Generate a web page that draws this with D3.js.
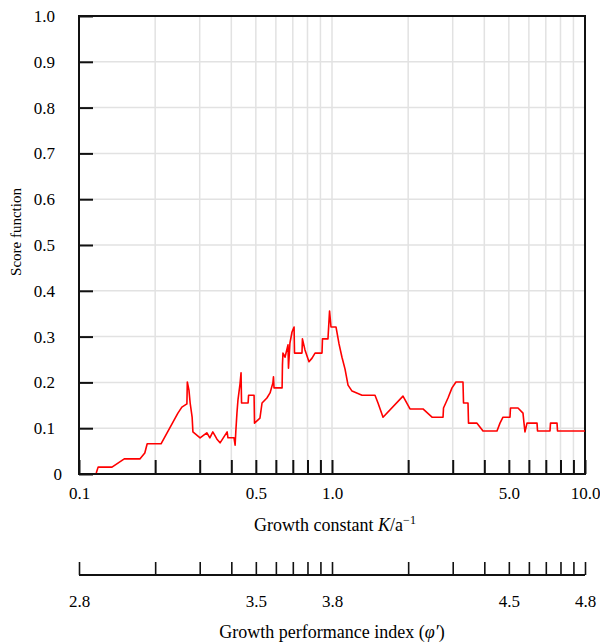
<!DOCTYPE html>
<html>
<head>
<meta charset="utf-8">
<script src="https://cdn.jsdelivr.net/npm/d3@7"></script>
<style>
body { margin: 0; background: #fff; }
text { font-family: "Liberation Serif", "Times New Roman", serif; fill: #000; }
</style>
</head>
<body>
<div id="chart"></div>
<script>
// growth constant K (1/a) and score function
const kValues = [0.117, 0.119, 0.135, 0.151, 0.174, 0.182, 0.186, 0.211, 0.246, 0.255,
    0.267, 0.268, 0.272, 0.275, 0.280, 0.282, 0.301, 0.320, 0.329, 0.338,
    0.351, 0.361, 0.367, 0.385, 0.388, 0.410, 0.414, 0.417, 0.421, 0.425,
    0.433, 0.437, 0.439, 0.466, 0.468, 0.492, 0.494, 0.519, 0.529, 0.553,
    0.569, 0.584, 0.587, 0.590, 0.635, 0.637, 0.640, 0.652, 0.670, 0.673,
    0.682, 0.695, 0.708, 0.711, 0.761, 0.764, 0.782, 0.811, 0.834, 0.857,
    0.913, 0.917, 0.964, 0.978, 0.991, 1.037, 1.066, 1.095, 1.126, 1.157,
    1.200, 1.314, 1.479, 1.520, 1.591, 1.908, 2.034, 2.289, 2.485, 2.747,
    2.759, 2.874, 2.981, 3.091, 3.294, 3.310, 3.448, 3.464, 3.742, 3.953,
    4.489, 4.613, 4.741, 5.052, 5.075, 5.435, 5.687, 5.740, 5.791, 5.899,
    6.462, 6.492, 7.272, 7.305, 7.752, 7.787, 10.0];
const scores = [0.002, 0.015, 0.015, 0.033, 0.033, 0.046, 0.066, 0.066, 0.133, 0.146,
    0.153, 0.201, 0.183, 0.155, 0.124, 0.092, 0.079, 0.090, 0.079, 0.092,
    0.076, 0.068, 0.074, 0.092, 0.079, 0.079, 0.063, 0.096, 0.133, 0.162,
    0.197, 0.221, 0.155, 0.155, 0.172, 0.172, 0.111, 0.122, 0.155, 0.166,
    0.177, 0.199, 0.212, 0.188, 0.188, 0.238, 0.264, 0.255, 0.282, 0.231,
    0.286, 0.310, 0.321, 0.264, 0.264, 0.295, 0.271, 0.245, 0.253, 0.264,
    0.264, 0.295, 0.295, 0.356, 0.321, 0.321, 0.284, 0.255, 0.229, 0.194,
    0.181, 0.172, 0.172, 0.155, 0.124, 0.170, 0.142, 0.142, 0.124, 0.124,
    0.144, 0.166, 0.188, 0.201, 0.201, 0.155, 0.155, 0.111, 0.111, 0.094,
    0.094, 0.111, 0.124, 0.124, 0.144, 0.144, 0.133, 0.111, 0.092, 0.111,
    0.111, 0.094, 0.094, 0.111, 0.111, 0.094, 0.094];

const yTicks = [0, 0.1, 0.2, 0.3, 0.4, 0.5, 0.6, 0.7, 0.8, 0.9, 1.0];
const kTicks = [0.1, 0.2, 0.3, 0.4, 0.5, 0.6, 0.7, 0.8, 0.9, 1, 2, 3, 4, 5, 6, 7, 8, 9, 10];
const kLabels = [0.1, 0.5, 1, 5, 10];
const kGrid = [0.2, 0.3, 0.4, 0.5, 0.6, 0.7, 0.8, 0.9, 1, 2, 3, 4, 5, 6, 7, 8, 9];
const phiLabels = [2.8, 3.5, 3.8, 4.5, 4.8];
const phiAtK1 = 3.8; // phi' where K = 1

function scoreChart() {
    const margin = {top: 16, right: 15, bottom: 169, left: 79};
    const fullW = 600, fullH = 643;
    const width = fullW - margin.left - margin.right;
    const height = fullH - margin.top - margin.bottom;
    const tickFont = "17px";

    const svg = d3.select("#chart")
        .append("svg")
        .attr("width", fullW)
        .attr("height", fullH)
        .append("g")
        .attr("transform", `translate(${margin.left}, ${margin.top})`);

    const x = d3.scaleLog().domain([0.1, 10]).range([0, width]);
    const y = d3.scaleLinear().domain([0, 1]).range([height, 0]);

    // grid
    svg.selectAll("vgrid")
        .data(kGrid)
        .enter()
        .append("line")
        .attr("x1", d => x(d)).attr("x2", d => x(d))
        .attr("y1", 0).attr("y2", height)
        .attr("stroke", "#e2e2e2")
        .attr("stroke-width", 1.5);
    svg.selectAll("hgrid")
        .data(yTicks.filter(d => d > 0 && d < 1))
        .enter()
        .append("line")
        .attr("x1", 0).attr("x2", width)
        .attr("y1", d => y(d)).attr("y2", d => y(d))
        .attr("stroke", "#e2e2e2")
        .attr("stroke-width", 1.5);

    // left axis, ticks inward
    const yAxis = svg.append("g")
        .call(d3.axisLeft(y).tickValues(yTicks).tickSize(-14).tickPadding(24)
            .tickFormat(d => d === 0 ? "0" : d.toFixed(1)));
    yAxis.select(".domain").remove();
    yAxis.selectAll("line").attr("stroke", "#111").attr("stroke-width", 2);
    yAxis.selectAll("text")
        .style("font-size", tickFont)
        .style("font-family", '"Liberation Serif", serif')
        .attr("x", d => d === 0 ? -17 : -24);

    // bottom axis, ticks inward
    const xAxis = svg.append("g")
        .attr("transform", `translate(0, ${height})`)
        .call(d3.axisBottom(x).tickValues(kTicks).tickSize(-14).tickPadding(13)
            .tickFormat(d => kLabels.includes(d) ? d.toFixed(1) : ""));
    xAxis.select(".domain").remove();
    xAxis.selectAll("line").attr("stroke", "#111").attr("stroke-width", 2);
    xAxis.selectAll("text")
        .style("font-size", tickFont)
        .style("font-family", '"Liberation Serif", serif');

    // frame
    svg.append("rect")
        .attr("x", 0).attr("y", 0)
        .attr("width", width).attr("height", height)
        .attr("fill", "none")
        .attr("stroke", "#111")
        .attr("stroke-width", 2);

    // score line
    const pts = kValues.map((k, i) => [k, scores[i]]);
    svg.append("path")
        .datum(pts)
        .attr("fill", "none")
        .attr("stroke", "#ff0000")
        .attr("stroke-width", 1.6)
        .attr("stroke-linejoin", "round")
        .attr("d", d3.line().x(d => x(d[0])).y(d => y(d[1])));

    // axis titles
    const xTitle = svg.append("text")
        .attr("x", width / 2 + 3)
        .attr("y", height + 57)
        .attr("text-anchor", "middle")
        .style("font-size", "18px");
    xTitle.append("tspan").text("Growth constant ");
    xTitle.append("tspan").style("font-style", "italic").text("K");
    xTitle.append("tspan").text("/a");
    xTitle.append("tspan").attr("dy", -7).style("font-size", "12px").text("\u22121");

    svg.append("text")
        .attr("transform", `translate(${-58}, ${height / 2 - 13}) rotate(-90)`)
        .attr("text-anchor", "middle")
        .style("font-size", "15px")
        .text("Score function");

    // growth performance index axis
    const phi = d3.scaleLinear().domain([phiLabels[0], phiLabels[phiLabels.length - 1]]).range([0, width]);
    const phiTicks = kTicks.map(k => phiAtK1 + Math.log10(k));
    const pAxis = svg.append("g")
        .attr("transform", `translate(0, ${height + 101})`)
        .call(d3.axisBottom(phi).tickValues(phiTicks).tickSize(-13).tickPadding(20)
            .tickFormat(d => {
                const hit = phiLabels.find(p => Math.abs(p - d) < 0.005);
                return hit === undefined ? "" : hit.toFixed(1);
            }));
    pAxis.select(".domain").attr("stroke", "#111").attr("stroke-width", 2)
        .attr("d", `M0,0H${width}`);
    pAxis.selectAll("line").attr("stroke", "#111").attr("stroke-width", 1.6);
    pAxis.selectAll("text")
        .style("font-size", tickFont)
        .style("font-family", '"Liberation Serif", serif');

    const pTitle = svg.append("text")
        .attr("x", width / 2)
        .attr("y", height + 164)
        .attr("text-anchor", "middle")
        .style("font-size", "18px");
    pTitle.append("tspan").text("Growth performance index (");
    pTitle.append("tspan").style("font-style", "italic").text("\u03c6\u2032");
    pTitle.append("tspan").text(")");
}

scoreChart();
</script>
</body>
</html>
